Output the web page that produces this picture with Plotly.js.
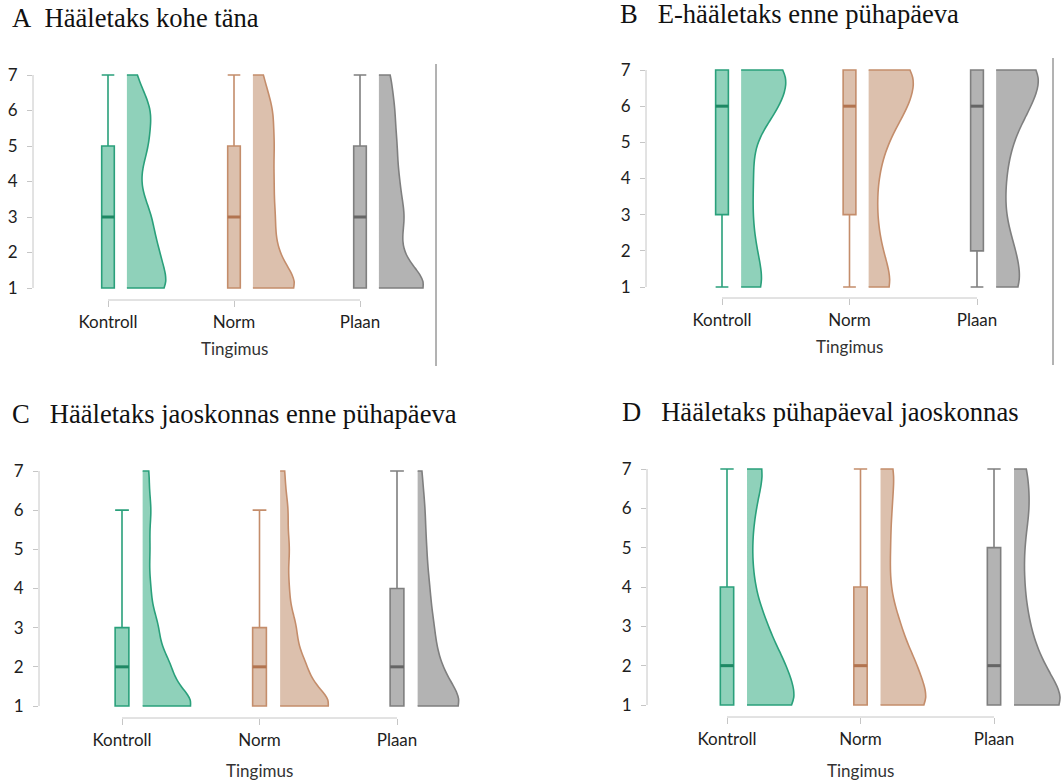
<!DOCTYPE html>
<html><head><meta charset="utf-8">
<script src="https://cdn.plot.ly/plotly-3.0.1.min.js"></script>
<style>html,body{margin:0;padding:0;background:#fff}</style>
</head><body><div id="chart" style="width:1061px;height:784px"></div>
<script>
// ---------------- data ----------------
const categories = ['Kontroll', 'Norm', 'Plaan'];
const ratings = [1, 2, 3, 4, 5, 6, 7];
const panelTitles = [
  'A\u00a0\u00a0Hääletaks kohe täna',
  'B\u00a0\u00a0\u00a0E-hääletaks enne pühapäeva',
  'C\u00a0\u00a0\u00a0Hääletaks jaoskonnas enne pühapäeva',
  'D\u00a0\u00a0\u00a0Hääletaks pühapäeval jaoskonnas'
];
const xTitle = 'Tingimus';

// answer counts for ratings 1..7 (estimated from the density shapes)
const countsA_Kontroll = [88, 61, 49, 22, 42, 50, 18];
const countsA_Norm     = [101, 45, 43, 40, 41, 40, 20];
const countsA_Plaan    = [112, 38, 52, 39, 35, 31, 24];
const countsB_Kontroll = [50, 29, 21, 24, 22, 76, 103];
const countsB_Norm     = [56, 26, 16, 18, 36, 80, 105];
const countsB_Plaan    = [57, 39, 16, 19, 30, 68, 105];
const countsC_Kontroll = [84, 42, 24, 12, 11, 13, 10];
const countsC_Norm     = [83, 38, 24, 13, 14, 12, 7];
const countsC_Plaan    = [82, 35, 26, 19, 14, 12, 7];
const countsD_Kontroll = [120, 84, 44, 16, 10, 18, 42];
const countsD_Norm     = [120, 81, 45, 21, 22, 25, 34];
const countsD_Plaan    = [122, 59, 32, 21, 20, 33, 29];

// box plot statistics per condition (Kontroll, Norm, Plaan)
const q1A = [1, 1, 1], medA = [3, 3, 3], q3A = [5, 5, 5], loA = [1, 1, 1], hiA = [7, 7, 7];
const q1B = [3, 3, 2], medB = [6, 6, 6], q3B = [7, 7, 7], loB = [1, 1, 1], hiB = [7, 7, 7];
const q1C = [1, 1, 1], medC = [2, 2, 2], q3C = [3, 3, 4], loC = [1, 1, 1], hiC = [6, 6, 7];
const q1D = [1, 1, 1], medD = [2, 2, 2], q3D = [4, 4, 5], loD = [1, 1, 1], hiD = [7, 7, 7];

// ---------------- styling / geometry ----------------
const W = 1061, H = 784;
const FONT = 'Lato, "Open Sans", sans-serif';
const FS = 17;
const AXIS_GRAY = '#c6c6c6';
const colors = [
  {line: '#2aa07b', fill: '#8fd1ba', med: '#1e8864'},
  {line: '#c48d6b', fill: '#dcc0ad', med: '#b27450'},
  {line: '#7f7f7f', fill: '#b3b3b3', med: '#656565'}
];
const BOX_WIDTH = 0.1;
const VIOLIN_OFFSET = 0.15;

const panels = [
  {suf: '',  counts: [countsA_Kontroll, countsA_Norm, countsA_Plaan], q1: q1A, med: medA, q3: q3A, lo: loA, hi: hiA,
   g: {left: 33, right: 437, top: 62, bottom: 300, cat0: 108, step: 126, y1: 288, y7: 75},
   title: {x: 10, y: 18}, xt: 348},
  {suf: '2', counts: [countsB_Kontroll, countsB_Norm, countsB_Plaan], q1: q1B, med: medB, q3: q3B, lo: loB, hi: hiB,
   g: {left: 646, right: 1054, top: 58, bottom: 298, cat0: 722, step: 127.5, y1: 287, y7: 70},
   title: {x: 618, y: 14}, xt: 347},
  {suf: '3', counts: [countsC_Kontroll, countsC_Norm, countsC_Plaan], q1: q1C, med: medC, q3: q3C, lo: loC, hi: hiC,
   g: {left: 39, right: 480, top: 455, bottom: 718, cat0: 122, step: 137.5, y1: 706, y7: 471},
   title: {x: 10, y: 414}, xt: 770},
  {suf: '4', counts: [countsD_Kontroll, countsD_Norm, countsD_Plaan], q1: q1D, med: medD, q3: q3D, lo: loD, hi: hiD,
   g: {left: 647, right: 1061, top: 455, bottom: 717, cat0: 727, step: 133.5, y1: 705, y7: 469},
   title: {x: 620, y: 412}, xt: 770}
];

function expand(counts) {
  const out = [];
  counts.forEach((c, k) => { for (let j = 0; j < c; j++) out.push(ratings[k]); });
  return out;
}
function quantile7(sorted, p) {
  const h = (sorted.length - 1) * p, lo = Math.floor(h), hi = Math.ceil(h);
  return sorted[lo] + (h - lo) * (sorted[hi] - sorted[lo]);
}
// R's bw.nrd0 rule
function nrd0(vals) {
  const n = vals.length;
  const mean = vals.reduce((a, b) => a + b, 0) / n;
  const sd = Math.sqrt(vals.reduce((a, b) => a + (b - mean) * (b - mean), 0) / (n - 1));
  const s = vals.slice().sort((a, b) => a - b);
  const iqr = quantile7(s, 0.75) - quantile7(s, 0.25);
  const lo = Math.min(sd, iqr / 1.34);
  return 0.9 * lo * Math.pow(n, -0.2);
}

const traces = [], shapes = [], annotations = [];
const layout = {
  width: W, height: H, autosize: false,
  margin: {l: 0, r: 0, t: 0, b: 0},
  paper_bgcolor: '#ffffff', plot_bgcolor: 'rgba(0,0,0,0)',
  showlegend: false,
  violinmode: 'overlay', violingap: 0.3, violingroupgap: 0,
  font: {family: FONT, size: FS, color: '#1e1e1e'}
};

panels.forEach((p, pi) => {
  const xa = 'x' + p.suf, ya = 'y' + p.suf;
  const g = p.g;
  const u = (g.y1 - g.y7) / 6;
  layout['xaxis' + p.suf] = {
    domain: [g.left / W, g.right / W],
    range: [(g.left - g.cat0) / g.step, (g.right - g.cat0) / g.step],
    anchor: ya, tickmode: 'array', tickvals: categories.map((c, i) => i), ticktext: categories,
    ticks: 'outside', ticklen: 6, tickwidth: 1, tickcolor: AXIS_GRAY,
    showline: false, showgrid: false, zeroline: false, fixedrange: true,
    tickfont: {family: FONT, size: FS, color: '#1e1e1e'}, ticklabelstandoff: 1
  };
  layout['yaxis' + p.suf] = {
    domain: [1 - g.bottom / H, 1 - g.top / H],
    range: [1 - (g.bottom - g.y1) / u, 7 + (g.y7 - g.top) / u],
    anchor: xa, tickmode: 'array', tickvals: ratings,
    ticks: 'outside', ticklen: 5, tickwidth: 1, tickcolor: AXIS_GRAY,
    showline: false, showgrid: false, zeroline: false, fixedrange: true,
    tickfont: {family: FONT, size: FS, color: '#1e1e1e'}, ticklabelstandoff: 6
  };
  // range-frame axis lines
  shapes.push({type: 'line', xref: 'paper', yref: ya, x0: g.left / W, x1: g.left / W,
               y0: ratings[0], y1: ratings[ratings.length - 1], line: {color: AXIS_GRAY, width: 1}});
  shapes.push({type: 'line', xref: xa, yref: 'paper', x0: 0, x1: categories.length - 1,
               y0: 1 - g.bottom / H, y1: 1 - g.bottom / H, line: {color: AXIS_GRAY, width: 1}});

  categories.forEach((cat, i) => {
    const col = colors[i];
    const samples = expand(p.counts[i]);
    traces.push({
      type: 'violin', xaxis: xa, yaxis: ya, x0: i + VIOLIN_OFFSET, y: samples,
      side: 'positive', spanmode: 'hard', bandwidth: nrd0(samples),
      scalegroup: 'panel' + pi, scalemode: 'width',
      points: false, box: {visible: false}, meanline: {visible: false},
      fillcolor: col.fill, line: {color: col.line, width: 1.6},
      hoverinfo: 'skip', showlegend: false, name: cat
    });
    traces.push({
      type: 'box', xaxis: xa, yaxis: ya, x: [i],
      q1: [p.q1[i]], median: [p.med[i]], q3: [p.q3[i]],
      lowerfence: [p.lo[i]], upperfence: [p.hi[i]],
      width: BOX_WIDTH, whiskerwidth: 1, boxpoints: false,
      fillcolor: col.fill, line: {color: col.line, width: 1.6},
      hoverinfo: 'skip', showlegend: false, name: cat
    });
    traces.push({
      type: 'scatter', mode: 'lines', xaxis: xa, yaxis: ya,
      x: [i - BOX_WIDTH / 2, i + BOX_WIDTH / 2], y: [p.med[i], p.med[i]],
      line: {color: col.med, width: 3}, hoverinfo: 'skip', showlegend: false
    });
  });

  annotations.push({xref: 'paper', yref: 'paper', x: p.title.x / W, y: 1 - p.title.y / H,
    xanchor: 'left', yanchor: 'middle', showarrow: false, text: panelTitles[pi],
    font: {family: '"Liberation Serif", "Times New Roman", serif', size: 26.6, color: '#111'}});
  annotations.push({xref: xa, yref: 'paper', x: 1, y: 1 - p.xt / H,
    xanchor: 'center', yanchor: 'middle', showarrow: false, text: xTitle,
    font: {family: FONT, size: FS, color: '#333'}});
});

// thin separator lines at the right of the top panels
shapes.push({type: 'line', xref: 'paper', yref: 'paper', x0: 436 / W, x1: 436 / W, y0: 1 - 64 / H, y1: 1 - 366 / H, line: {color: '#666', width: 1}});
shapes.push({type: 'line', xref: 'paper', yref: 'paper', x0: 1053 / W, x1: 1053 / W, y0: 1 - 58 / H, y1: 1 - 365 / H, line: {color: '#666', width: 1}});

layout.shapes = shapes;
layout.annotations = annotations;

Plotly.newPlot('chart', traces, layout, {staticPlot: true, displayModeBar: false});
</script>
</body></html>
